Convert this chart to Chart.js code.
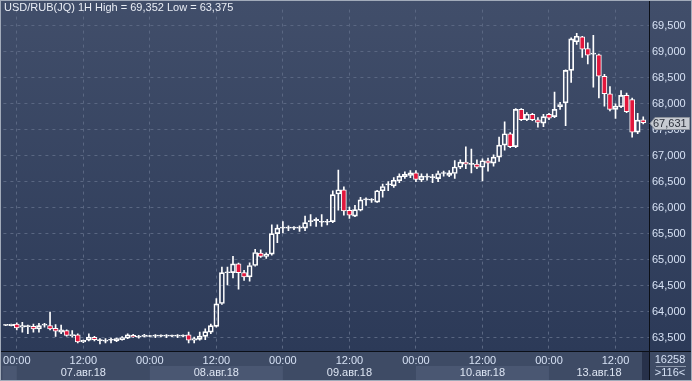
<!DOCTYPE html>
<html><head><meta charset="utf-8">
<script src="https://cdn.jsdelivr.net/npm/chart.js@4/dist/chart.umd.min.js"></script>
<style>html,body{margin:0;padding:0;background:#2f3c58;}canvas{display:block}</style>
</head><body>
<canvas id="c" width="692" height="381"></canvas>
<script>
// ---- data ----
const symbolTitle = 'USD/RUB(JQ) 1H High = 69,352 Low = 63,375';
const sessionDays  = ['06.авг.18','07.авг.18','08.авг.18','09.авг.18','10.авг.18','13.авг.18'];
const sessionStart = [22, 0, 0, 0, 0, 0];
const sessionEnd   = [23, 23, 23, 23, 23, 16];
const labelHours   = [0, 12];
const yTicks = [63.5, 64.0, 64.5, 65.0, 65.5, 66.0, 66.5, 67.0, 67.5, 68.0, 68.5, 69.0, 69.5];
const footerTop = '16258';
const footerBottom = '>116<';

const open = [63.735,63.730,63.759,63.697,63.709,63.715,63.665,63.740,63.728,63.678,
63.603,63.634,63.534,63.553,63.415,63.447,63.503,63.440,63.430,63.447,
63.434,63.460,63.490,63.540,63.509,63.522,63.520,63.528,63.528,63.528,
63.528,63.528,63.528,63.553,63.447,63.465,63.522,63.603,63.715,64.154,
64.745,64.748,64.916,64.748,64.666,64.885,65.123,65.060,65.104,65.497,
65.604,65.604,65.604,65.604,65.604,65.729,65.748,65.716,65.716,65.729,
66.260,66.342,65.948,65.835,65.948,66.148,66.140,66.104,66.323,66.436,
66.417,66.511,66.592,66.617,66.667,66.530,66.586,66.574,66.555,66.655,
66.617,66.655,66.774,66.874,66.830,66.836,66.774,66.899,66.855,66.968,
67.199,67.418,67.170,67.887,67.687,67.793,67.687,67.624,67.793,67.749,
67.937,68.012,68.637,69.188,69.281,69.056,68.950,68.937,68.525,68.187,
67.887,67.937,68.156,68.074,67.449,67.687];
const high = [63.745,63.760,63.784,63.790,63.740,63.759,63.772,63.772,63.990,63.747,
63.740,63.647,63.634,63.572,63.450,63.572,63.522,63.478,63.478,63.490,
63.490,63.520,63.572,63.560,63.540,63.560,63.540,63.559,63.550,63.559,
63.545,63.559,63.550,63.603,63.509,63.603,63.665,63.759,64.248,64.854,
64.854,65.060,64.930,64.790,64.935,65.198,65.185,65.130,65.666,65.666,
65.729,65.648,65.635,65.648,65.835,65.866,65.804,65.866,65.773,66.323,
66.720,66.400,66.010,66.040,66.198,66.185,66.170,66.330,66.449,66.498,
66.574,66.649,66.686,66.711,66.711,66.649,66.649,66.636,66.699,66.699,
66.711,66.905,66.918,67.168,67.124,66.918,66.936,66.949,67.011,67.355,
67.649,67.440,67.905,67.905,67.824,67.812,67.730,67.793,67.812,68.218,
68.024,68.650,69.263,69.352,69.290,69.169,69.313,68.950,68.562,68.325,
67.993,68.250,68.200,68.106,67.812,67.743];
const low = [63.730,63.725,63.647,63.603,63.572,63.603,63.603,63.697,63.647,63.522,
63.572,63.528,63.509,63.397,63.400,63.434,63.434,63.375,63.397,63.397,
63.420,63.450,63.478,63.500,63.490,63.510,63.510,63.497,63.510,63.497,
63.515,63.497,63.510,63.397,63.397,63.447,63.459,63.572,63.700,64.135,
64.510,64.647,64.430,64.600,64.585,64.873,65.040,65.020,65.085,65.322,
65.510,65.554,65.572,65.540,65.554,65.648,65.635,65.635,65.666,65.710,
65.948,65.854,65.790,65.823,65.935,66.040,66.100,66.100,66.198,66.323,
66.386,66.480,66.561,66.574,66.498,66.498,66.524,66.480,66.498,66.605,
66.592,66.561,66.749,66.749,66.667,66.749,66.511,66.699,66.793,66.886,
67.105,67.150,67.150,67.668,67.668,67.668,67.543,67.555,67.687,67.730,
67.887,67.574,68.406,69.137,68.887,68.762,68.312,68.106,67.949,67.856,
67.712,67.918,67.824,67.355,67.418,67.606];
const close = [63.740,63.755,63.684,63.728,63.728,63.665,63.728,63.745,63.665,63.622,
63.647,63.540,63.559,63.415,63.447,63.509,63.459,63.450,63.435,63.450,
63.478,63.500,63.553,63.510,63.511,63.547,63.524,63.530,63.530,63.530,
63.530,63.530,63.531,63.447,63.478,63.528,63.615,63.728,64.147,64.748,
64.750,64.916,64.748,64.666,64.885,65.135,65.060,65.103,65.497,65.604,
65.606,65.606,65.606,65.606,65.710,65.731,65.773,65.718,65.718,66.248,
66.342,65.935,65.854,65.960,66.148,66.150,66.145,66.323,66.405,66.438,
66.524,66.605,66.636,66.667,66.542,66.605,66.588,66.576,66.655,66.657,
66.667,66.780,66.874,66.836,66.832,66.774,66.899,66.855,66.968,67.199,
67.418,67.168,67.887,67.687,67.793,67.687,67.637,67.749,67.718,67.887,
67.981,68.637,69.244,69.294,69.044,68.931,68.952,68.525,68.187,67.887,
67.949,68.156,67.843,67.449,67.681,67.631];

// ---- categories (hourly bars) ----
const barDay = [], barHour = [];
sessionDays.forEach((d, k) => {
  for (let h = sessionStart[k]; h <= sessionEnd[k]; h++) { barDay.push(k); barHour.push(h); }
});
const hh = h => (h < 10 ? '0' : '') + h + ':00';
const fmt = v => v.toFixed(3).replace('.', ',');

// ---- styles ----
const FONT = "'Liberation Sans Narrow','Liberation Sans',Arial,sans-serif";
const TXT = '#d6e1f4';
const GRID = '#5a6782';
const UP_FILL = 'rgba(0,0,0,0)';
const DOWN_FILL = '#e2163c';

const bodyData  = open.map((o, i) => ({x: i, y: [o, close[i]]}));
const upperWick = open.map((o, i) => ({x: i, y: [Math.max(o, close[i]), high[i]]}));
const lowerWick = open.map((o, i) => ({x: i, y: [low[i], Math.min(o, close[i])]}));
const bodyFill  = open.map((o, i) => close[i] >= o ? UP_FILL : DOWN_FILL);

const decor = {
  id: 'decor',
  beforeDraw(chart) {
    const {ctx, chartArea: a, scales: {x}} = chart;
    const W = chart.width, H = chart.height;
    ctx.save();
    const g = ctx.createLinearGradient(0, 0, 0, a.bottom);
    g.addColorStop(0, '#414e6a');
    g.addColorStop(1, '#2c3a58');
    ctx.fillStyle = g;
    ctx.fillRect(0, 0, W, a.bottom);
    ctx.fillStyle = '#3e4b65';
    ctx.fillRect(0, a.bottom, W, H - a.bottom);
    // date bands
    const starts = [];
    barDay.forEach((d, i) => { if (i === 0 || barDay[i - 1] !== d) starts.push(i); });
    chart.$bands = [];
    starts.forEach((s, k) => {
      const x0 = k === 0 ? a.left - 1 : x.getPixelForValue(s);
      const x1 = k === starts.length - 1 ? a.right : x.getPixelForValue(starts[k + 1]);
      if (k % 2 === 0) { ctx.fillStyle = '#4a5772'; ctx.fillRect(x0, 366, x1 - x0, H - 366); }
      chart.$bands.push({x0, x1, d: barDay[s]});
    });
    ctx.fillStyle = '#27314a';
    ctx.fillRect(a.right - 7, a.bottom + 1, 7, H - a.bottom - 1);
    ctx.restore();
  },
  afterDraw(chart) {
    const {ctx, chartArea: a, scales: {y}} = chart;
    const W = chart.width, H = chart.height;
    ctx.save();
    ctx.font = '11px ' + FONT;
    ctx.textBaseline = 'middle';
    // date labels
    ctx.fillStyle = '#dde5f3';
    ctx.textAlign = 'center';
    chart.$bands.forEach(b => {
      if (b.x1 - b.x0 > 60) ctx.fillText(sessionDays[b.d], (b.x0 + b.x1) / 2, 373);
    });
    // separators
    ctx.strokeStyle = '#0b0f17';
    ctx.lineWidth = 1;
    ctx.beginPath();
    ctx.moveTo(0, a.bottom + 0.5); ctx.lineTo(W, a.bottom + 0.5);
    ctx.moveTo(a.right + 0.5, 0); ctx.lineTo(a.right + 0.5, H);
    ctx.stroke();
    // footer box
    ctx.fillStyle = TXT;
    ctx.fillText(footerTop, 670, 360);
    ctx.fillText(footerBottom, 670, 373);
    ctx.strokeStyle = '#8c97ab';
    ctx.beginPath(); ctx.moveTo(656, 366.5); ctx.lineTo(686, 366.5); ctx.stroke();
    // title
    ctx.textAlign = 'left';
    ctx.fillStyle = '#e9edf5';
    ctx.fillText(symbolTitle, 4, 8);
    // last price label
    const last = close[close.length - 1];
    const py = Math.round(y.getPixelForValue(last)) + 0.5;
    ctx.beginPath();
    ctx.moveTo(650, py);
    ctx.lineTo(655, py - 6);
    ctx.lineTo(689.5, py - 6);
    ctx.lineTo(689.5, py + 6);
    ctx.lineTo(655, py + 6);
    ctx.closePath();
    ctx.fillStyle = '#c7cbd2';
    ctx.fill();
    ctx.strokeStyle = '#8e949e';
    ctx.stroke();
    ctx.fillStyle = '#2a2f3a';
    ctx.fillText(fmt(last), 653, py);
    // outer border
    ctx.strokeStyle = '#a2abba';
    ctx.strokeRect(0.5, 0.5, W - 1, H - 1);
    ctx.restore();
  }
};

new Chart(document.getElementById('c'), {
  type: 'bar',
  data: {
    datasets: [
      {data: bodyData, backgroundColor: bodyFill, borderColor: '#ffffff', borderWidth: 1,
       borderSkipped: false, barThickness: 5, minBarLength: 1, grouped: false},
      {data: upperWick, backgroundColor: '#ffffff', borderWidth: 0, barThickness: 1, grouped: false},
      {data: lowerWick, backgroundColor: '#ffffff', borderWidth: 0, barThickness: 1, grouped: false}
    ]
  },
  options: {
    responsive: false,
    animation: false,
    devicePixelRatio: 1,
    layout: {padding: {left: 1, top: 1, right: 0, bottom: 0}},
    plugins: {legend: {display: false}, tooltip: {enabled: false}},
    scales: {
      x: {
        type: 'linear', offset: false, min: -0.41, max: 116.04,
        afterFit: s => { s.height = 30; },
        afterBuildTicks: s => {
          s.ticks = barHour.map((h, i) => ({h, i})).filter(o => labelHours.includes(o.h)).map(o => ({value: o.i}));
        },
        ticks: {autoSkip: false, maxRotation: 0, minRotation: 0, padding: 3, color: TXT,
                font: {family: FONT, size: 11},
                callback: v => hh(barHour[v])},
        grid: {color: GRID, drawTicks: false, offset: false},
        border: {display: true, color: '#0b0f17', dash: [3, 4]}
      },
      y: {
        position: 'right', min: 63.241, max: 69.806,
        afterFit: s => { s.width = 43; },
        afterBuildTicks: s => { s.ticks = yTicks.map(v => ({value: v})); },
        ticks: {padding: 3, color: TXT, font: {family: FONT, size: 11}, callback: v => fmt(v)},
        grid: {color: GRID, drawTicks: false},
        border: {display: true, color: '#0b0f17', dash: [3, 4]}
      }
    }
  },
  plugins: [decor]
});
</script>
</body></html>
